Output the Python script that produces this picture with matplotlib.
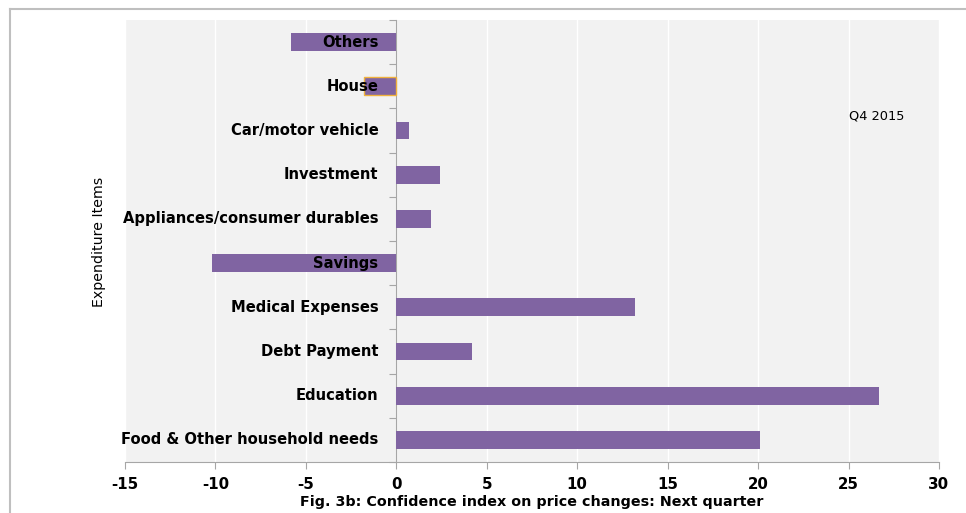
import matplotlib.pyplot as plt
from matplotlib.lines import Line2D

# data, bottom to top
items = ['Food & Other household needs', 'Education', 'Debt Payment',
         'Medical Expenses', 'Savings', 'Appliances/consumer durables',
         'Investment', 'Car/motor vehicle', 'House', 'Others']
index_values = [20.1, 26.7, 4.2, 13.2, -10.2, 1.9, 2.4, 0.7, -1.8, -5.8]
x_ticks = [-15, -10, -5, 0, 5, 10, 15, 20, 25, 30]

bar_color = '#8064A2'
axis_gray = '#A6A6A6'

fig = plt.figure(figsize=(9.66, 5.13), dpi=100)
ax = fig.add_axes([0.1294, 0.0994, 0.8426, 0.8616])
ax.set_facecolor('#F2F2F2')

ypos = list(range(len(items)))
bars = ax.barh(ypos, index_values, height=0.4, color=bar_color, zorder=3)
# House bar gets an orange outline
bars[items.index('House')].set_edgecolor('#F0B13C')
bars[items.index('House')].set_linewidth(1.0)

ax.set_xlim(-15, 30)
ax.set_ylim(-0.5, len(items) - 0.5)
ax.set_xticks(x_ticks)
ax.set_xticklabels([str(t) for t in x_ticks], fontsize=10.8, fontweight='bold')
ax.xaxis.grid(True, color='white', linewidth=1.0, zorder=0)
ax.set_axisbelow(True)

# y axis sits on zero, ticks between categories
ax.spines['left'].set_position(('data', 0))
ax.spines['left'].set_color(axis_gray)
ax.spines['bottom'].set_color(axis_gray)
ax.spines['top'].set_visible(False)
ax.spines['right'].set_visible(False)
ax.set_yticks([y - 0.5 for y in range(len(items) + 1)])
ax.set_yticklabels([])
ax.tick_params(axis='y', length=5, color=axis_gray, direction='out')
ax.tick_params(axis='x', length=5, color=axis_gray, direction='out', pad=6)

# category labels drawn left of the zero line
for y, name in zip(ypos, items):
    ax.annotate(name, xy=(0, y), xytext=(-13, 0), textcoords='offset points',
                ha='right', va='center', fontsize=10.6, fontweight='bold',
                zorder=4)

ax.set_xlabel('Fig. 3b: Confidence index on price changes: Next quarter',
              fontsize=10.3, fontweight='bold', labelpad=2)
fig.text(0.103, 0.528, 'Expenditure Items', rotation=90, ha='center',
         va='center', fontsize=10.2,
         family=['Liberation Sans Narrow', 'DejaVu Sans'])

ax.text(0.924, 0.782, 'Q4 2015', transform=ax.transAxes, ha='center',
        va='center', fontsize=9.3)

# outer frame of the chart
fig.add_artist(Line2D([0.0105, 1.0], [0.983, 0.983], color='#BFBFBF',
                      linewidth=1.5, transform=fig.transFigure))
fig.add_artist(Line2D([0.0105, 0.0105], [0.0, 0.983], color='#BFBFBF',
                      linewidth=1.5, transform=fig.transFigure))

fig.savefig('out.png', dpi=100)
